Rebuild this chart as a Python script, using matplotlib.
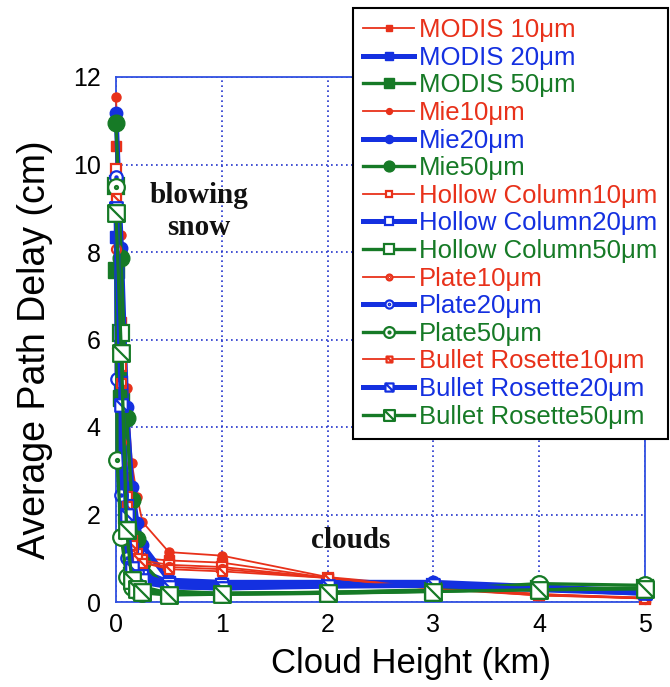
import matplotlib
matplotlib.use("Agg")
import matplotlib.pyplot as plt
from matplotlib.path import Path

# ---------------- data ----------------
height_main = [0, 0.05, 0.1, 0.15, 0.2, 0.25, 0.5, 1, 2, 3, 4, 5]
height_plate = [0, 0.01, 0.05, 0.1, 0.15, 0.2, 0.25, 0.5, 1, 2, 3, 4, 5]

modis_10 = [10.43, 6.4, 2.86, 1.8, 1.2, 1.0, 0.95, 0.90, 0.55, 0.35, 0.18, 0.10]
modis_20 = [8.35, 4.8, 2.6, 1.6, 1.0, 0.7, 0.45, 0.42, 0.42, 0.40, 0.32, 0.22]
modis_50 = [7.60, 4.66, 2.2, 1.2, 0.5, 0.35, 0.20, 0.20, 0.22, 0.26, 0.30, 0.30]
mie_10 = [11.55, 8.4, 4.9, 3.17, 2.4, 1.83, 1.14, 1.06, 0.57, 0.35, 0.18, 0.08]
mie_20 = [11.18, 8.1, 4.46, 2.63, 1.8, 1.3, 0.50, 0.45, 0.45, 0.45, 0.35, 0.25]
mie_50 = [10.95, 7.86, 4.2, 2.33, 1.45, 0.9, 0.25, 0.20, 0.22, 0.25, 0.30, 0.30]
hc_10 = [9.90, 5.4, 2.4, 1.4, 1.1, 0.95, 0.85, 0.80, 0.55, 0.33, 0.17, 0.08]
hc_20 = [9.60, 5.0, 2.2, 1.2, 0.8, 0.6, 0.42, 0.38, 0.40, 0.40, 0.30, 0.22]
hc_50 = [9.50, 6.15, 2.0, 0.6, 0.4, 0.3, 0.20, 0.18, 0.20, 0.25, 0.30, 0.32]
plate_10 = [8.07, 5.8, 3.66, 2.0, 1.2, 1.0, 0.9, 0.80, 0.75, 0.55, 0.32, 0.15, 0.08]
plate_20 = [9.72, 5.1, 2.45, 1.0, 0.7, 0.5, 0.45, 0.35, 0.32, 0.38, 0.38, 0.30, 0.20]
plate_50 = [9.49, 3.24, 1.49, 0.57, 0.35, 0.25, 0.2, 0.18, 0.18, 0.22, 0.28, 0.42, 0.38]
br_10 = [9.23, 5.0, 2.2, 1.3, 1.0, 0.9, 0.75, 0.70, 0.55, 0.30, 0.15, 0.10]
br_20 = [9.00, 4.5, 2.0, 0.78, 0.6, 0.5, 0.35, 0.32, 0.36, 0.38, 0.28, 0.20]
br_50 = [8.89, 5.7, 1.65, 0.5, 0.3, 0.22, 0.16, 0.18, 0.20, 0.24, 0.28, 0.30]

labels = ["MODIS 10μm", "MODIS 20μm", "MODIS 50μm",
          "Mie10μm", "Mie20μm", "Mie50μm",
          "Hollow Column10μm", "Hollow Column20μm", "Hollow Column50μm",
          "Plate10μm", "Plate20μm", "Plate50μm",
          "Bullet Rosette10μm", "Bullet Rosette20μm", "Bullet Rosette50μm"]
series = [modis_10, modis_20, modis_50, mie_10, mie_20, mie_50,
          hc_10, hc_20, hc_50, plate_10, plate_20, plate_50,
          br_10, br_20, br_50]
heights = [height_main] * 9 + [height_plate] * 3 + [height_main] * 3

x_ticks = [0, 1, 2, 3, 4, 5]
y_ticks = [0, 2, 4, 6, 8, 10, 12]

# ---------------- styles ----------------
RED = "#e8311a"
BLUE = "#1430e0"
GREEN = "#167a26"
colors = [RED, BLUE, GREEN]
lws = [1.3, 3.6, 2.4]
msizes = [6.5, 9.0, 12.0]

plate_marker = Path.make_compound_path(Path.unit_circle(), Path.circle((0, 0), 0.18))
br_verts = [(-1, -1), (1, -1), (1, 1), (-1, 1), (-1, -1), (-1, 1), (1, -1)]
br_codes = [Path.MOVETO, Path.LINETO, Path.LINETO, Path.LINETO, Path.CLOSEPOLY,
            Path.MOVETO, Path.LINETO]
br_marker = Path(br_verts, br_codes)

shape_styles = [
    dict(marker="s", filled=True),
    dict(marker="o", filled=True),
    dict(marker="s", filled=False),
    dict(marker=plate_marker, filled=False),
    dict(marker=br_marker, filled=False),
]

plt.rcParams["font.family"] = ["Liberation Sans", "DejaVu Sans"]

fig = plt.figure(figsize=(6.7, 6.87), dpi=100)
ax = fig.add_axes([116 / 670, 85 / 687, 529 / 670, 525 / 687])

for i, (xs, vals, lab) in enumerate(zip(heights, series, labels)):
    shape = shape_styles[i // 3]
    k = i % 3
    c = colors[k]
    ax.plot(xs, vals, color=c, lw=lws[k],
            marker=shape["marker"], markersize=msizes[k],
            markerfacecolor=c if shape["filled"] else "white",
            markeredgecolor=c, markeredgewidth=1.6 if not shape["filled"] else 1.0,
            label=lab, clip_on=False, zorder=3)

ax.set_xlim(0, 5)
ax.set_ylim(0, 12)
ax.set_xticks(x_ticks)
ax.set_yticks(y_ticks)
ax.tick_params(axis="both", length=0, labelsize=18)
ax.tick_params(axis="x", pad=8)
ax.tick_params(axis="y", pad=11)
ax.grid(True, color="#2233cc", linestyle=(0, (1, 2)), linewidth=1.2)
for s in ax.spines.values():
    s.set_color("#3050e0")
    s.set_linewidth(1.3)

ax.set_xlabel("Cloud Height (km)", fontsize=25)
ax.xaxis.set_label_coords(0.558, -0.085)
ax.set_ylabel("Average Path Delay (cm)", fontsize=27)
ax.yaxis.set_label_coords(-0.12, 0.48)

ax.text(0.78, 9.12, "blowing", fontsize=21, fontweight="bold",
        family="Liberation Serif", ha="center", va="baseline", color="#111111")
ax.text(0.78, 8.39, "snow", fontsize=21, fontweight="bold",
        family="Liberation Serif", ha="center", va="baseline", color="#111111")
ax.text(2.22, 1.23, "clouds", fontsize=21, fontweight="bold",
        family="Liberation Serif", ha="center", va="baseline", color="#111111")

leg = fig.legend(loc="upper right", bbox_to_anchor=(668 / 670, 1 - 8 / 687),
                 fontsize=18.5, frameon=True, fancybox=False, framealpha=1,
                 edgecolor="black", labelspacing=0.14, handlelength=2.0,
                 handletextpad=0.2, borderpad=0.4, borderaxespad=0,
                 markerscale=0.65)
leg.get_frame().set_linewidth(1.5)
for txt, i in zip(leg.get_texts(), range(len(labels))):
    txt.set_color(colors[i % 3])

fig.savefig("out.png", dpi=100)
